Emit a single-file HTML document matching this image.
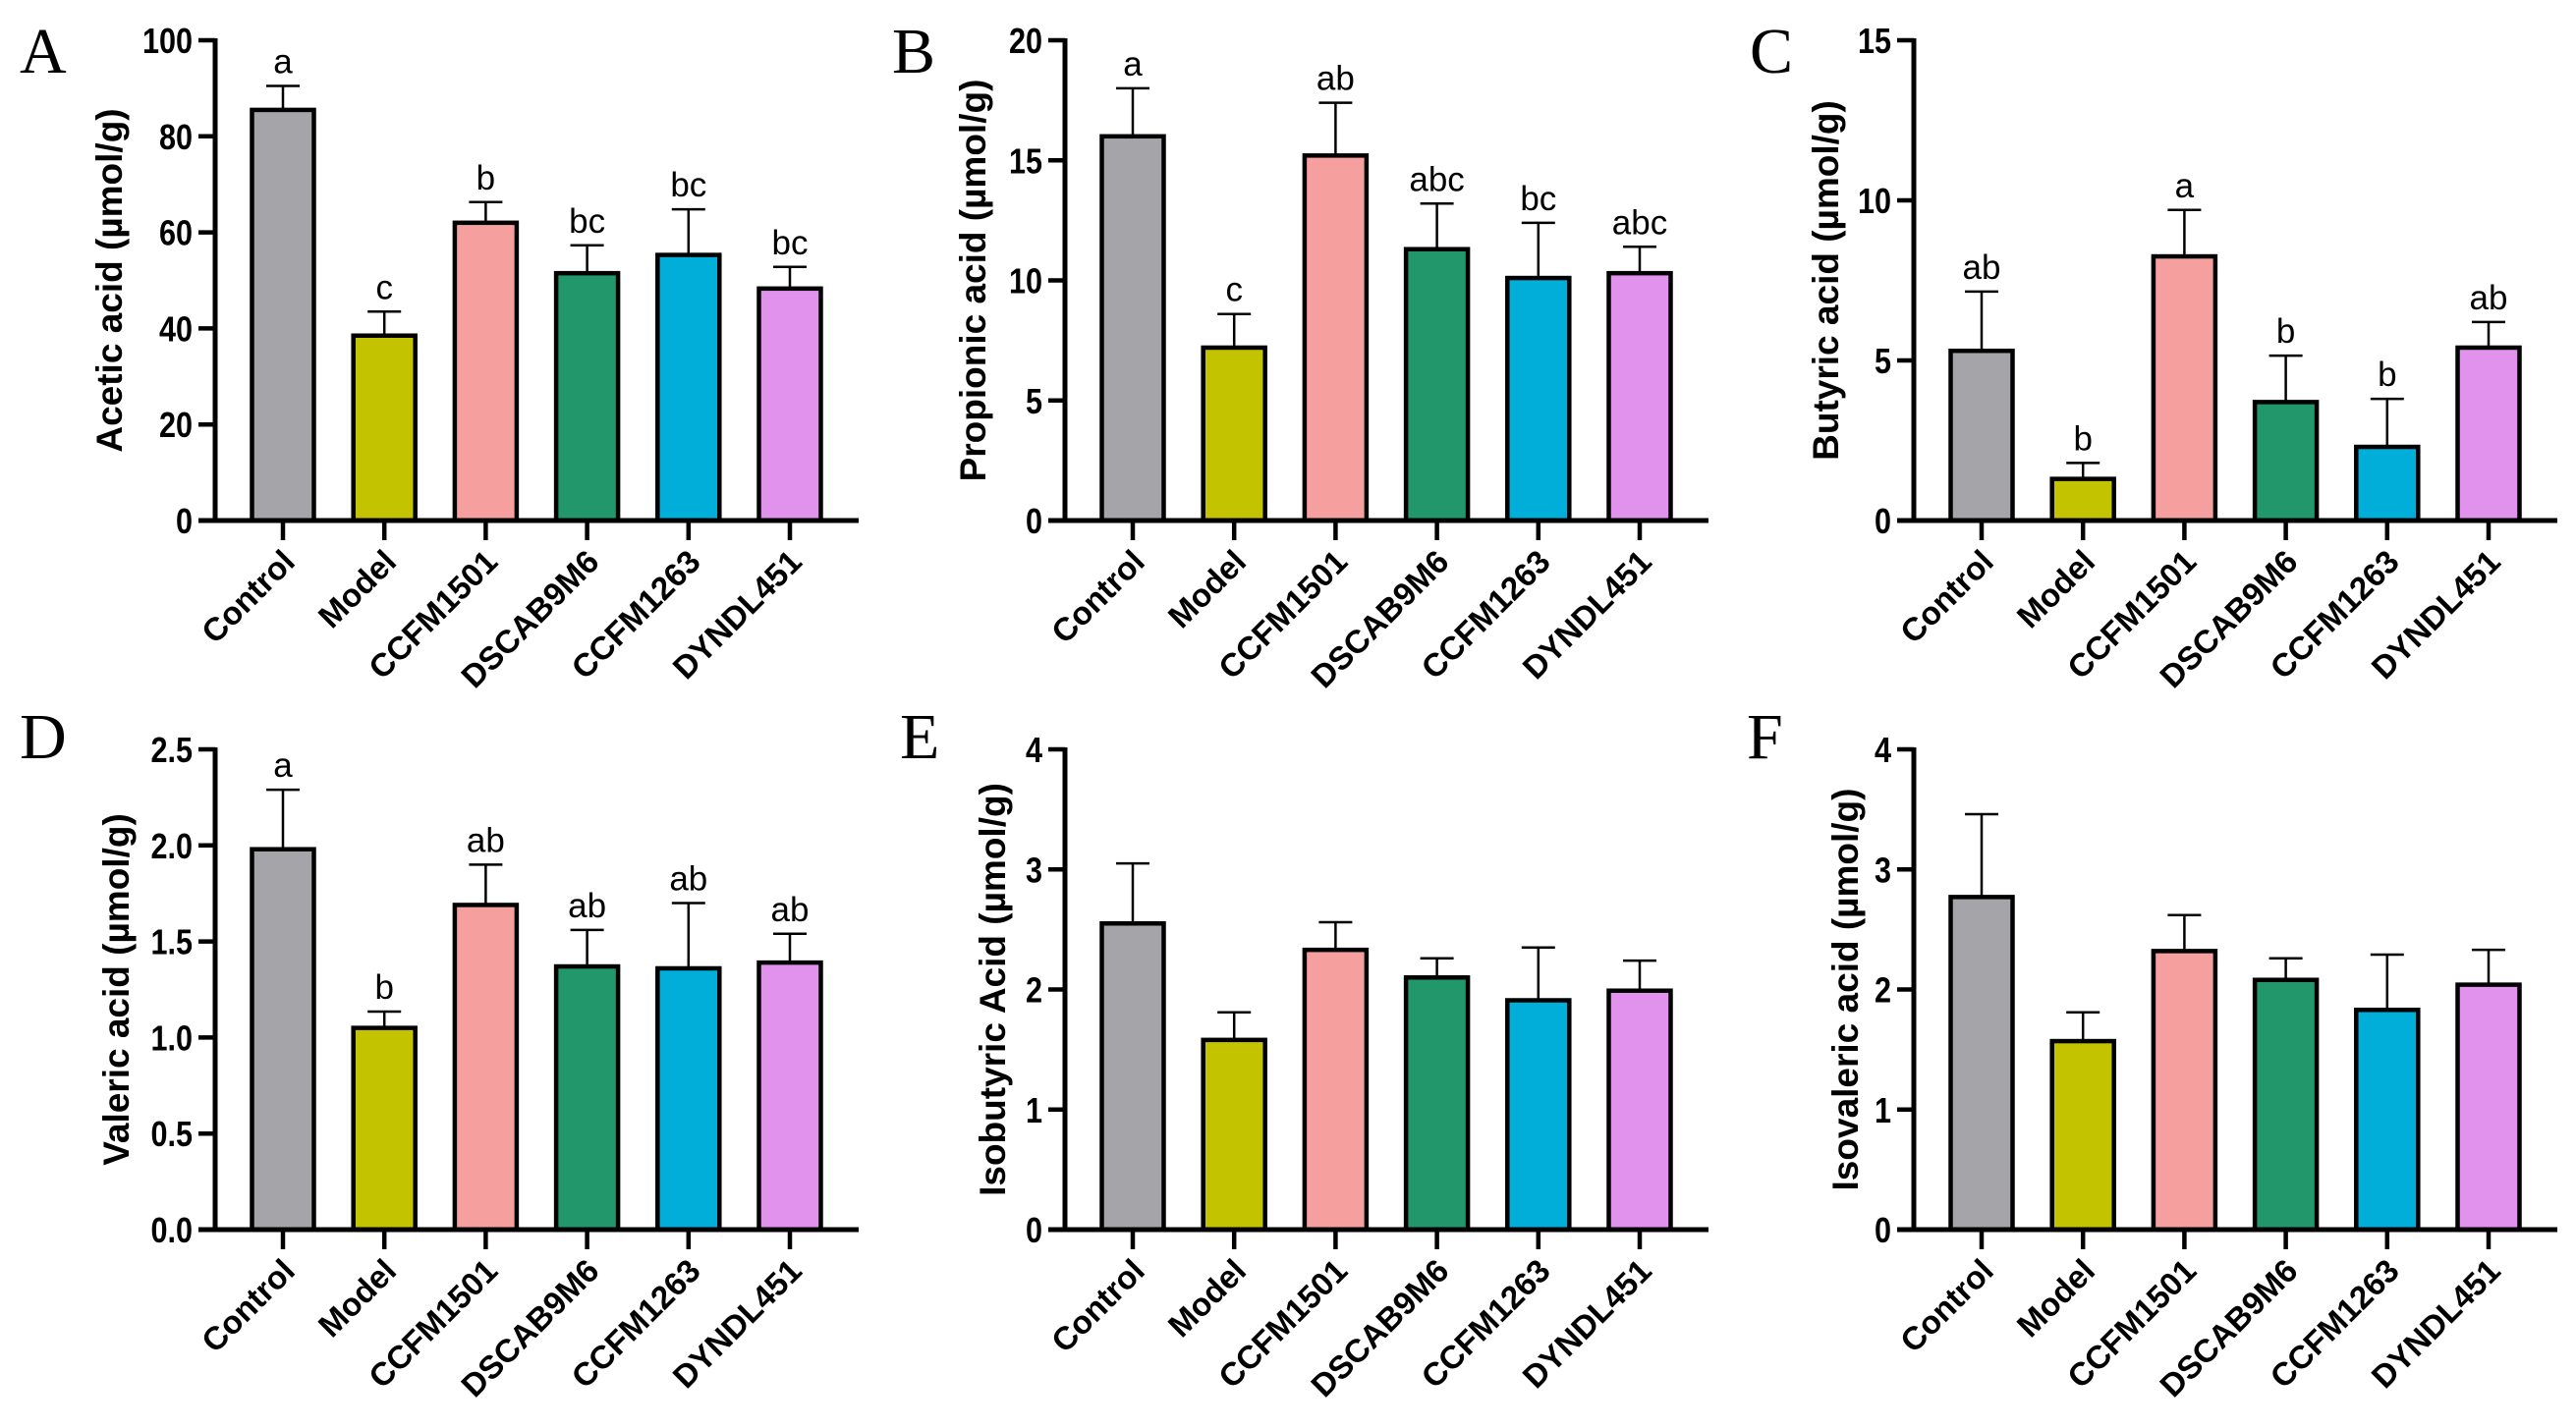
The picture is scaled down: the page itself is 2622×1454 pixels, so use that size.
<!DOCTYPE html>
<html><head><meta charset="utf-8">
<style>
html,body{margin:0;padding:0;background:#fff;}
svg{display:block;}
</style></head>
<body>
<svg id="fig" width="2622" height="1454" viewBox="0 0 2622 1454" xmlns="http://www.w3.org/2000/svg"></svg>
<script>
const categories = ["Control","Model","CCFM1501","DSCAB9M6","CCFM1263","DYNDL451"];
const colors = ["#A5A4A9","#C4C300","#F5A09E","#22976B","#00AEDA","#E192EC"];

const acetMeans = [85.5,38.5,62.0,51.5,55.3,48.3];
const acetTops  = [90.5,43.5,66.3,57.3,64.8,52.8];
const acetSig   = ["a","c","b","bc","bc","bc"];
const acetTicks = [0,20,40,60,80,100];

const propMeans = [16.0,7.2,15.2,11.3,10.1,10.3];
const propTops  = [18.0,8.6,17.4,13.2,12.4,11.4];
const propSig   = ["a","c","ab","abc","bc","abc"];
const propTicks = [0,5,10,15,20];

const butMeans = [5.3,1.3,8.25,3.7,2.3,5.4];
const butTops  = [7.15,1.8,9.7,5.15,3.8,6.2];
const butSig   = ["ab","b","a","b","b","ab"];
const butTicks = [0,5,10,15];

const valMeans = [1.98,1.05,1.69,1.37,1.36,1.39];
const valTops  = [2.29,1.135,1.90,1.56,1.70,1.54];
const valSig   = ["a","b","ab","ab","ab","ab"];
const valTicks = ["0.0","0.5","1.0","1.5","2.0","2.5"];

const isobMeans = [2.55,1.58,2.33,2.10,1.91,1.99];
const isobTops  = [3.05,1.81,2.56,2.26,2.35,2.24];
const isobTicks = [0,1,2,3,4];

const isovMeans = [2.77,1.57,2.32,2.08,1.83,2.04];
const isovTops  = [3.46,1.81,2.62,2.26,2.29,2.33];
const isovTicks = [0,1,2,3,4];

const panels = [
 {id:"A",title:"Acetic acid (µmol/g)",means:acetMeans,tops:acetTops,sig:acetSig,ticks:acetTicks,ax:219,yTop:41,y0:530,tOff:108,lx:20,ly:74},
 {id:"B",title:"Propionic acid (µmol/g)",means:propMeans,tops:propTops,sig:propSig,ticks:propTicks,ax:1084,yTop:41,y0:530,tOff:94,lx:908,ly:74},
 {id:"C",title:"Butyric acid (µmol/g)",means:butMeans,tops:butTops,sig:butSig,ticks:butTicks,ax:1948,yTop:41,y0:530,tOff:90,lx:1781,ly:74},
 {id:"D",title:"Valeric acid (µmol/g)",means:valMeans,tops:valTops,sig:valSig,ticks:valTicks,ax:219,yTop:763,y0:1252,tOff:101,lx:20,ly:772},
 {id:"E",title:"Isobutyric Acid (µmol/g)",means:isobMeans,tops:isobTops,sig:null,ticks:isobTicks,ax:1084,yTop:763,y0:1252,tOff:74,lx:916,ly:772},
 {id:"F",title:"Isovaleric acid (µmol/g)",means:isovMeans,tops:isovTops,sig:null,ticks:isovTicks,ax:1948,yTop:763,y0:1252,tOff:70,lx:1778,ly:772}
];

const NS="http://www.w3.org/2000/svg";
const svg=document.getElementById("fig");
function mk(tag,attrs,parent){const e=document.createElementNS(NS,tag);for(const k in attrs)e.setAttribute(k,attrs[k]);(parent||svg).appendChild(e);return e;}
const SANS='"Liberation Sans", Arial, sans-serif';

panels.forEach(p=>{
  const g=mk("g",{});
  
  
  const tickVals=p.ticks.map(Number);
  const maxV=Math.max(...tickVals);
  const yS=v=>p.y0-(v/maxV)*(p.y0-p.yTop);
  const xS=i=>p.ax+69+i*103.2;
  const xEnd=p.ax+655;

  const L=mk("text",{x:p.lx,y:p.ly,"font-family":'"Liberation Serif", serif',"font-size":66,fill:"#000"},g);
  L.textContent=p.id;
  
  

  p.means.forEach((m,i)=>{
    const cx=xS(i);
    const eb=mk("g",{},g);
    
    
    mk("line",{x1:cx,x2:cx,y1:yS(m),y2:yS(p.tops[i]),stroke:"#000","stroke-width":2.5},eb);
    mk("line",{x1:cx-17,x2:cx+17,y1:yS(p.tops[i]),y2:yS(p.tops[i]),stroke:"#000","stroke-width":2.5},eb);
    const r=mk("rect",{x:cx-31.5,y:yS(m),width:63,height:p.y0-yS(m),fill:colors[i],stroke:"#000","stroke-width":4.5},g);
    
    
    if(p.sig){
      const s=mk("text",{x:cx,y:yS(p.tops[i])-13,"text-anchor":"middle","font-family":SANS,"font-size":35,fill:"#000"},g);
      s.textContent=p.sig[i];
      
      
    }
    mk("line",{x1:cx,x2:cx,y1:p.y0,y2:p.y0+20,stroke:"#000","stroke-width":4.5},g);
    const lab=mk("text",{x:0,y:0,"text-anchor":"end","font-family":SANS,"font-weight":"bold","font-size":33,fill:"#000",transform:`translate(${cx+14},${p.y0+44}) rotate(-45)`},g);
    lab.textContent=categories[i];
    
    
  });

  const ya=mk("line",{x1:p.ax,x2:p.ax,y1:p.yTop-2,y2:p.y0+2,stroke:"#000","stroke-width":5},g);
  
  
  const xa=mk("line",{x1:p.ax-17,x2:xEnd,y1:p.y0,y2:p.y0,stroke:"#000","stroke-width":5},g);
  
  
  p.ticks.forEach(t=>{
    const y=yS(Number(t));
    mk("line",{x1:p.ax-17,x2:p.ax,y1:y,y2:y,stroke:"#000","stroke-width":4.5},g);
    const tl=mk("text",{x:0,y:0,"text-anchor":"end","font-family":SANS,"font-weight":"bold","font-size":36,fill:"#000",transform:`translate(${p.ax-23},${y+13}) scale(0.85,1)`},g);
    tl.textContent=String(t);
    
    
  });
  const cy=(p.yTop+p.y0)/2;
  const tt=mk("text",{x:0,y:0,"text-anchor":"middle","font-family":SANS,"font-weight":"bold","font-size":37,fill:"#000",transform:`translate(${p.ax-p.tOff+13},${cy}) rotate(-90)`},g);
  tt.textContent=p.title;
  
  
});
</script>
</body></html>
